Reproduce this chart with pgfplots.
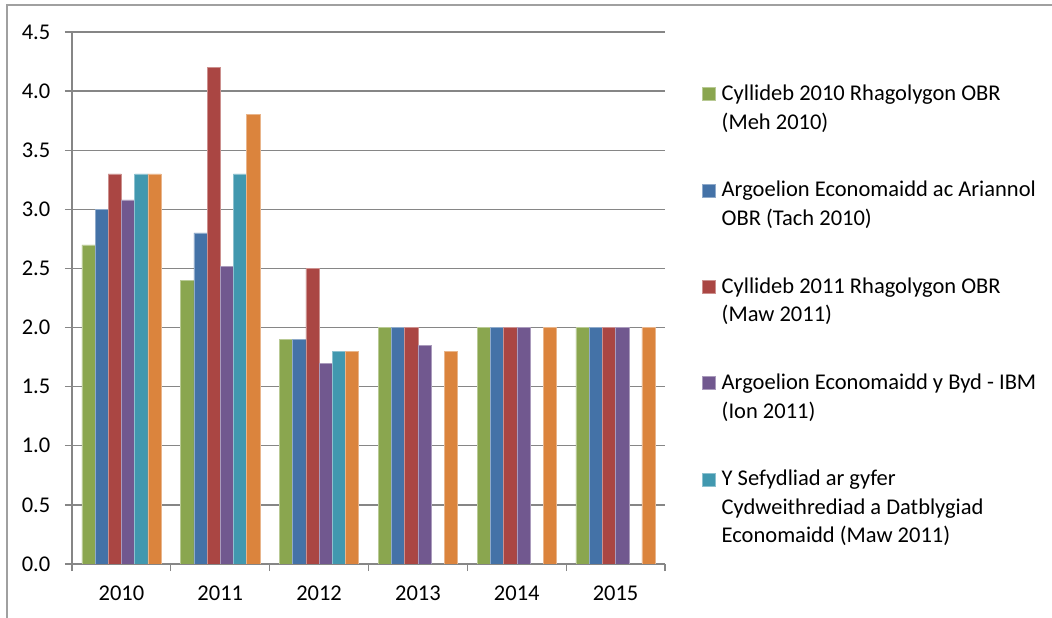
\documentclass[border=0pt]{standalone}
\usepackage{fontspec}
\setmainfont{Carlito}
\usepackage{pgfplots}
\pgfplotsset{compat=1.18}
\definecolor{cgreen}{RGB}{138,166,79}
\definecolor{cblue}{RGB}{68,114,167}
\definecolor{cred}{RGB}{170,70,67}
\definecolor{cpurple}{RGB}{113,88,143}
\definecolor{cteal}{RGB}{65,152,175}
\definecolor{corange}{RGB}{219,132,61}
\definecolor{cgrid}{RGB}{134,134,134}
\definecolor{cframe}{RGB}{160,160,160}
\begin{document}
\fontsize{22.5}{28.5}\selectfont
\begin{tikzpicture}[x=1pt,y=1pt]
\useasboundingbox (-72,-54) rectangle (980,564);
\draw[color=cframe, line width=1.6pt] (-65,-54) -- (-65,559) -- (980,559);
\begin{axis}[
  at={(0pt,0pt)}, anchor=south west,
  scale only axis, width=593pt, height=532pt,
  ybar=0pt, bar width=0.1336,
  xmin=-0.5, xmax=5.5, ymin=0, ymax=4.5,
  axis x line*=bottom, axis y line*=left,
  axis line style={color=cgrid, line width=1.3pt},
  xtick={0,1,2,3,4,5},
  xticklabels={2010,2011,2012,2013,2014,2015},
  minor xtick={-0.5,0.5,1.5,2.5,3.5,4.5,5.5},
  ytick={0,0.5,1,1.5,2,2.5,3,3.5,4,4.5},
  yticklabel style={xshift=-7pt, /pgf/number format/.cd,fixed,fixed zerofill,precision=1,assume math mode=true},
  xticklabel style={yshift=-7pt},
  tick align=outside,
  x tick style={draw=none},
  minor x tick style={draw=cgrid, line width=1.3pt},
  minor tick length=7pt,
  y tick style={draw=cgrid, line width=1.3pt},
  major tick length=7pt,
  ymajorgrids,
  grid style={color=cgrid, line width=1.3pt},
  legend style={draw=none, fill=none, inner sep=0pt, at={(1.0624,0.909)}, anchor=north west,
    row sep=73pt, column sep=6pt, nodes={inner sep=0pt}},
  legend cell align=left,
  legend style={cells={anchor=base west}},
  area legend,
  legend image code/.code={\fill[#1] (0pt,0pt) rectangle (13pt,13pt);},
]
\addplot[fill=cgreen, draw=cgreen!60!white, line width=0.5pt] coordinates {(0,2.7) (1,2.4) (2,1.9) (3,2.0) (4,2.0) (5,2.0)};
\addlegendentry{\begin{tabular}[t]{@{}l@{}}Cyllideb 2010 Rhagolygon OBR\\(Meh 2010)\end{tabular}}
\addplot[fill=cblue, draw=cblue!60!white, line width=0.5pt] coordinates {(0,3.0) (1,2.8) (2,1.9) (3,2.0) (4,2.0) (5,2.0)};
\addlegendentry{\begin{tabular}[t]{@{}l@{}}Argoelion Economaidd ac Ariannol\\OBR (Tach 2010)\end{tabular}}
\addplot[fill=cred, draw=cred!60!white, line width=0.5pt] coordinates {(0,3.3) (1,4.2) (2,2.5) (3,2.0) (4,2.0) (5,2.0)};
\addlegendentry{\begin{tabular}[t]{@{}l@{}}Cyllideb 2011 Rhagolygon OBR\\(Maw 2011)\end{tabular}}
\addplot[fill=cpurple, draw=cpurple!60!white, line width=0.5pt] coordinates {(0,3.08) (1,2.52) (2,1.7) (3,1.85) (4,2.0) (5,2.0)};
\addlegendentry{\begin{tabular}[t]{@{}l@{}}Argoelion Economaidd y Byd - IBM\\(Ion 2011)\end{tabular}}
\addplot[fill=cteal, draw=cteal!60!white, line width=0.5pt] coordinates {(0,3.3) (1,3.3) (2,1.8)};
\addlegendentry{\begin{tabular}[t]{@{}l@{}}Y Sefydliad ar gyfer\\Cydweithrediad a Datblygiad\\Economaidd (Maw 2011)\end{tabular}}
\addplot[fill=corange, draw=corange!60!white, line width=0.5pt] coordinates {(0,3.3) (1,3.8) (2,1.8) (3,1.8) (4,2.0) (5,2.0)};
\end{axis}
\end{tikzpicture}
\end{document}
